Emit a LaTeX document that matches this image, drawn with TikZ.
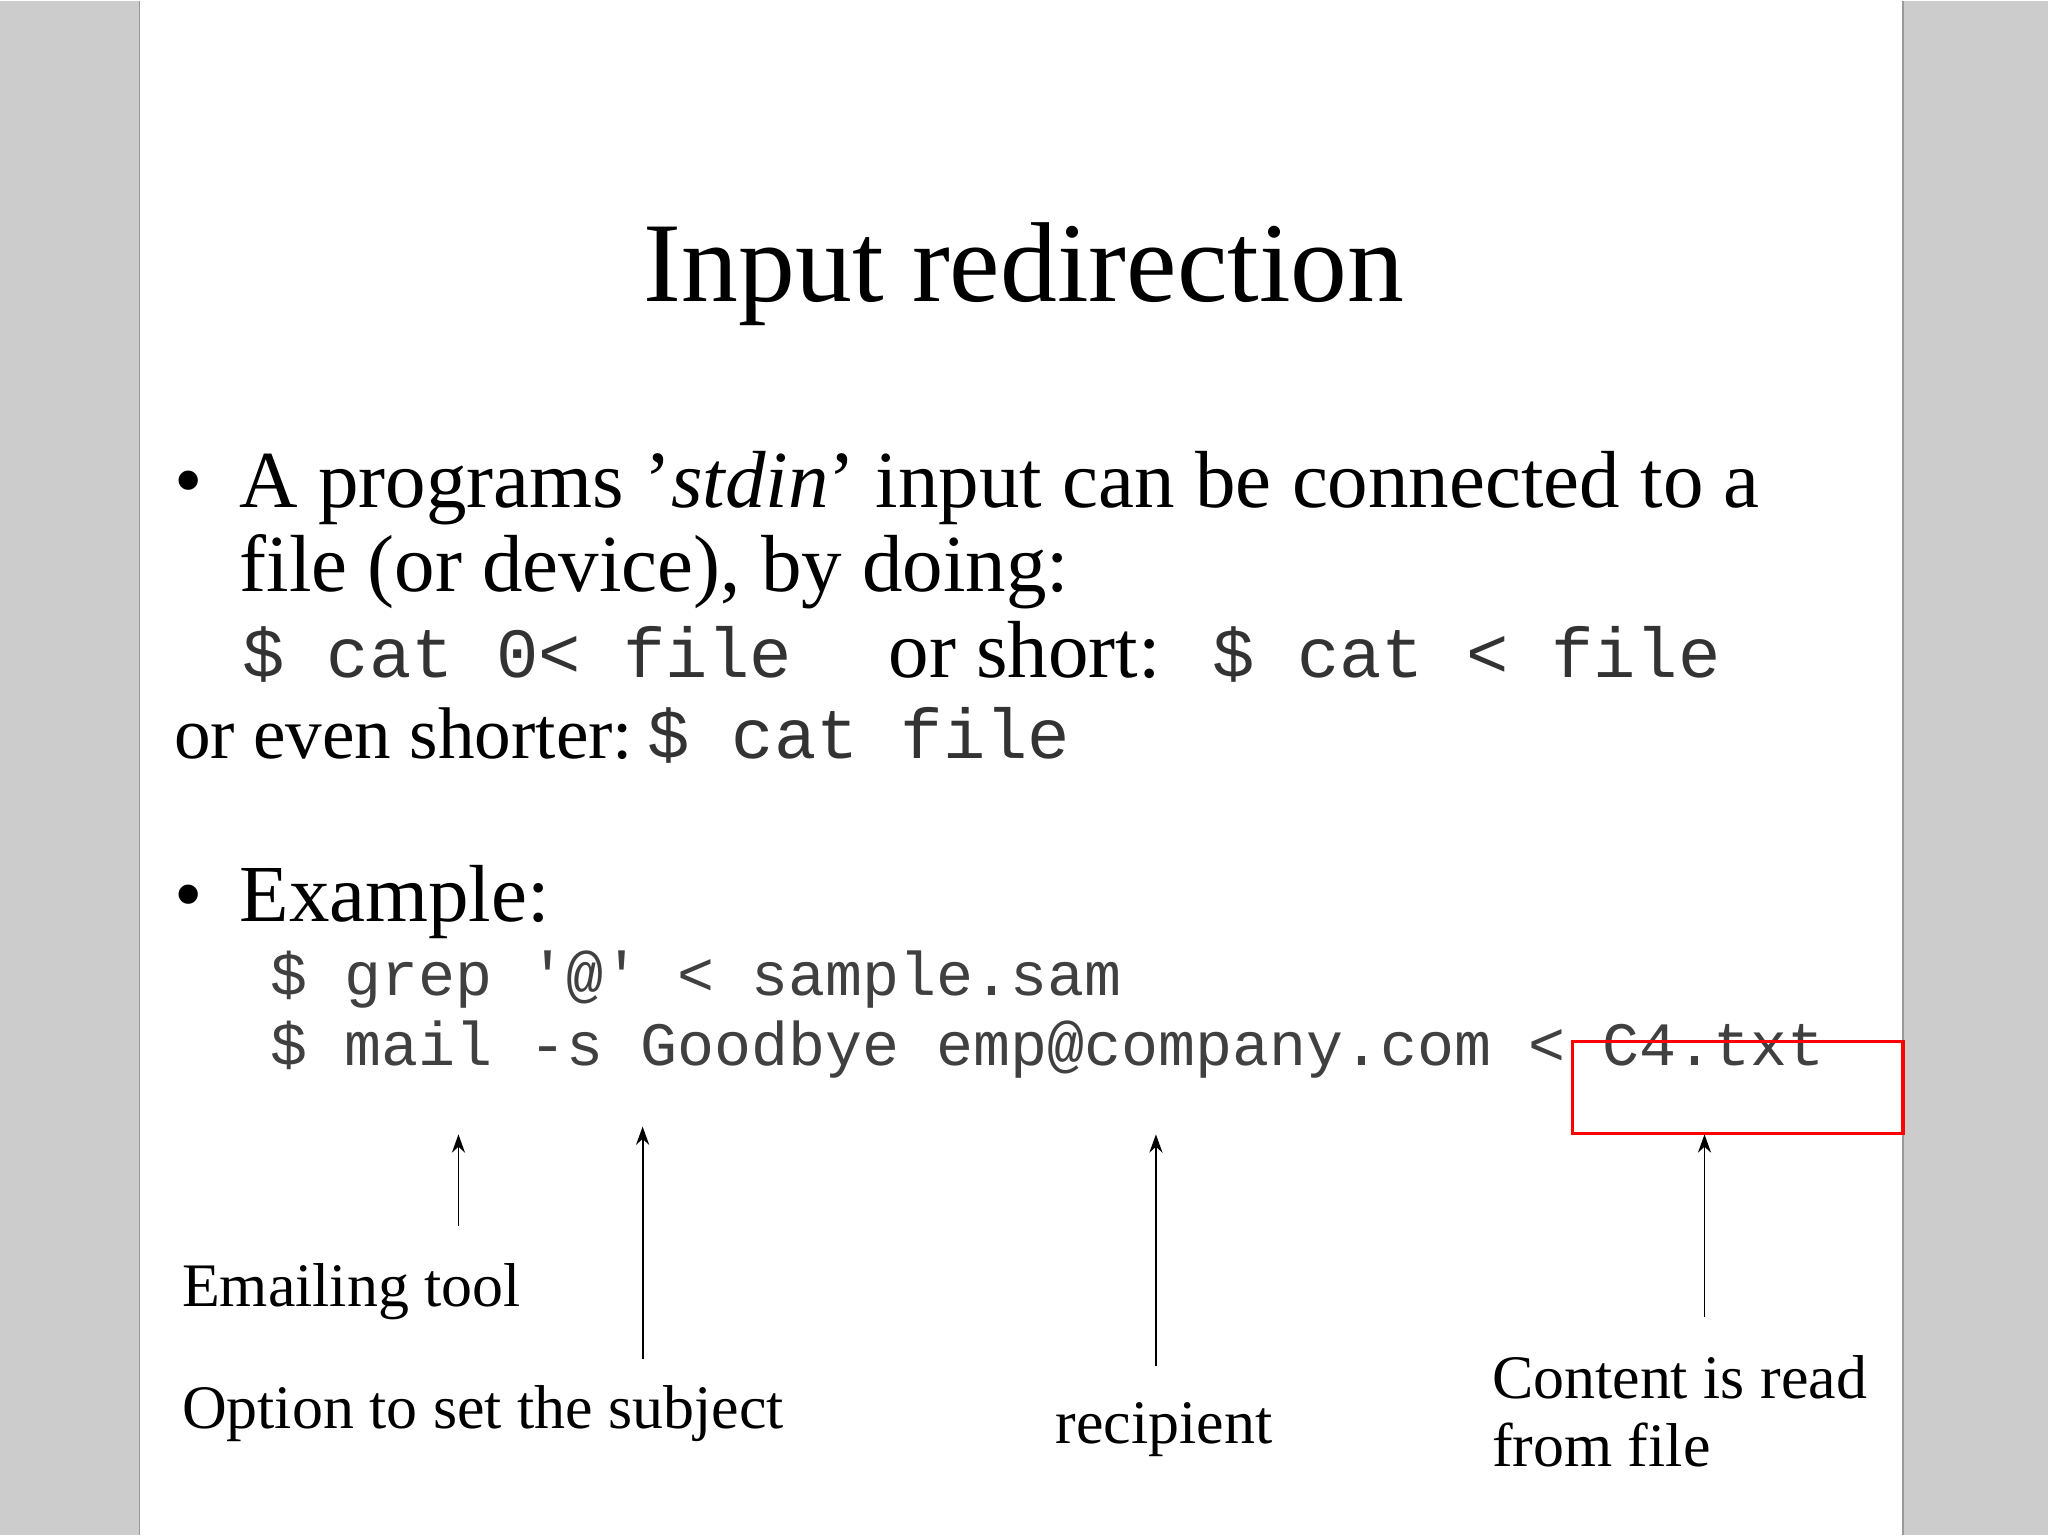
\documentclass[tikz,border=0pt]{standalone}
\usepackage{fontspec}
\setmainfont{Liberation Serif}
\setmonofont{Liberation Mono}
\usetikzlibrary{arrows.meta}
\begin{document}
\begin{tikzpicture}[x=0.5pt,y=-0.5pt,
  txt/.style={anchor=base west,inner sep=0pt},
  body/.style={txt,font=\fontsize{31}{36}\selectfont},
  code/.style={txt,font=\fontsize{27}{32}\selectfont\ttfamily,text=black!80},
  ex/.style={txt,font=\fontsize{23.6}{28}\selectfont\ttfamily,text=black!75},
  lab/.style={txt,font=\fontsize{23.7}{28}\selectfont},
  arr/.style={-{Stealth[length=7pt,width=5pt]},line width=0.7pt}]
\fill[black!20] (0,0) rectangle (1568,1175);
\fill[white] (107,0) rectangle (1457,1175);
\draw[black!40,line width=0.5pt] (107,0) -- (107,1175) (1457,0) -- (1457,1175);
\node[anchor=base,inner sep=0pt,font=\fontsize{43.5}{50}\selectfont] (title) at (784,230) {Input redirection};
\node[body] (b1) at (133,388) {\textbullet};
\node[body] (l1) at (183,388) {A programs {\char39}\textit{stdin}{\char39} input can be connected to a};
\node[body] (l2) at (183,452) {file (or device), by doing:};
\node[code] (c1) at (185,518) {\$ cat 0< file};
\node[body] (os) at (680,518) {or short:};
\node[code] (c2) at (928,518) {\$ cat < file};
\node[body,font=\fontsize{28}{32}\selectfont] (oe) at (133,580) {or even shorter:};
\node[code] (c3) at (495,580) {\$ cat file};
\node[body] (b2) at (133,705) {\textbullet};
\node[body] (exl) at (183,705) {Example:};
\node[ex] (e1) at (207,762) {\$ grep '@' < sample.sam};
\node[ex] (e2) at (207,815) {\$ mail -s Goodbye emp@company.com < C4.txt};
\draw[red,line width=1.2pt] (1204,797) rectangle (1457,867);
\coordinate (a1s) at (351,938); \coordinate (a1e) at (351,868);
\coordinate (a2s) at (492,1040); \coordinate (a2e) at (492,862);
\coordinate (a3s) at (885,1045); \coordinate (a3e) at (885,868);
\coordinate (a4s) at (1305,1008); \coordinate (a4e) at (1305,868);
\draw[arr] (a1s) -- (a1e);
\draw[arr] (a2s) -- (a2e);
\draw[arr] (a3s) -- (a3e);
\draw[arr] (a4s) -- (a4e);
\node[lab] (t1) at (139,1000) {Emailing tool};
\node[lab] (t2) at (139,1093) {Option to set the subject};
\node[lab] (t3) at (808,1105) {recipient};
\node[lab] (t4) at (1142,1070) {Content is read};
\node[lab] (t5) at (1142,1122) {from file};
\end{tikzpicture}
\end{document}
